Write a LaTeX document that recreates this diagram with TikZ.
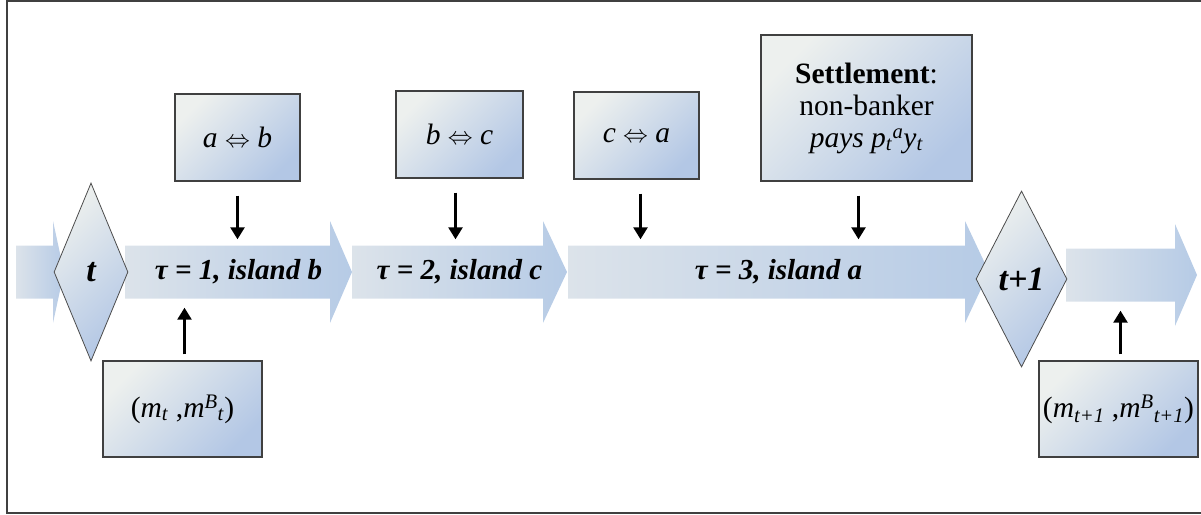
\documentclass[tikz,border=0pt]{standalone}
\usepackage{fontspec}
\setmainfont{Liberation Serif}
\usepackage{xcolor}
\usepackage{tikz}
\usetikzlibrary{arrows.meta, shapes.geometric}

\definecolor{paleGrey}{HTML}{EDF0EE}
\definecolor{steelBlue}{HTML}{B3C7E5}
\definecolor{bandGrey}{HTML}{DCE3EA}
\definecolor{bandBlue}{HTML}{B6CBE6}

\tikzset{
	infobox/.style = {draw = black!75, line width = 1.3pt, left color = paleGrey, right color = steelBlue, shading angle = 45, inner sep = 0pt, align = center, font = \fontsize{29.5}{32}\selectfont},
	period/.style = {diamond, draw = black!70, line width = 0.8pt, left color = paleGrey, right color = steelBlue, shading angle = 45, inner sep = 0pt, font = \fontsize{34}{36}\selectfont\bfseries\itshape},
	bandlabel/.style = {minimum height = 53pt, inner sep = 0pt, font = \fontsize{29}{32}\selectfont\bfseries\itshape},
	flow/.style = {line width = 2.6pt, -{Triangle[length = 12pt, width = 14pt]}},
}

\begin{document}
\begin{tikzpicture}[x = 1pt, y = -1pt]
			\def\bandHalf{26.5};
			\def\headHalf{51};

			\useasboundingbox (0,0) rectangle (1201,514);
			\draw [black!75, line width = 1.6pt] (1210,1) -| (7,513) -- (1210,513);

			\foreach \xa/\xb/\xc/\ym/\lbl/\name in {16/53/64/272/{}/band0, 125/330/352/272/{τ = 1, island b}/band1, 352/543/567/272/{τ = 2, island c}/band2, 568/965/989/272/{τ = 3, island a}/band3, 1066/1175/1197/275/{}/band4}
			{
				\path [left color = bandGrey, right color = bandBlue] (\xa,\ym-\bandHalf) -- (\xb,\ym-\bandHalf) -- (\xb,\ym-\headHalf) -- (\xc,\ym) -- (\xb,\ym+\headHalf) -- (\xb,\ym+\bandHalf) -- (\xa,\ym+\bandHalf) -- cycle;
				\node [bandlabel] (\name) at ({(\xa+\xc)/2},\ym) {\lbl};
			}

			\node [period, minimum width = 74pt, minimum height = 178pt] (t0) at (91,272) {t};
			\node [period, minimum width = 91pt, minimum height = 176pt] (t1) at (1021.5,279) {t+1};

			\node [infobox, minimum width = 125pt, minimum height = 87pt] (ab) at (237.5,137.5) {\textit{a} $\Leftrightarrow$ \textit{b}};
			\node [infobox, minimum width = 127pt, minimum height = 87pt] (bc) at (459.5,134.5) {\textit{b} $\Leftrightarrow$ \textit{c}};
			\node [infobox, minimum width = 125pt, minimum height = 87pt] (ca) at (636.5,135.5) {\textit{c} $\Leftrightarrow$ \textit{a}};
			\node [infobox, minimum width = 211pt, minimum height = 146pt] (settle) at (866.5,108) {\textbf{Settlement}:\\ non-banker\\ \textit{pays p}\textsubscript{\textit{t}}\textsuperscript{\textit{a}}\textit{y}\textsubscript{\textit{t}}};
			\node [infobox, minimum width = 159pt, minimum height = 96pt] (mt) at (182.5,409) {(\textit{m}\textsubscript{\textit{t}} ,\textit{m}\textsuperscript{\textit{B}}\textsubscript{\textit{t}})};
			\node [infobox, minimum width = 159pt, minimum height = 96pt] (mt1) at (1118.5,409) {(\textit{m}\textsubscript{\textit{t+1}} ,\textit{m}\textsuperscript{\textit{B}}\textsubscript{\textit{t+1}})};

			\foreach \src/\dst/\dx in {ab/band1/0, bc/band2/-4, ca/band3/4, settle/band3/-8}
			{
				\path ([xshift = \dx pt]\src.south) coordinate (from);
				\draw [flow, shorten <= 14pt, shorten >= 6pt] (from) -- (from |- \dst.north);
			}
			\foreach \src/\dst/\dx in {mt/band1/2, mt1/band4/2}
			{
				\path ([xshift = \dx pt]\src.north) coordinate (from);
				\draw [flow, shorten <= 6pt, shorten >= 9pt] (from) -- (from |- \dst.south);
			}
		\end{tikzpicture}
\end{document}
